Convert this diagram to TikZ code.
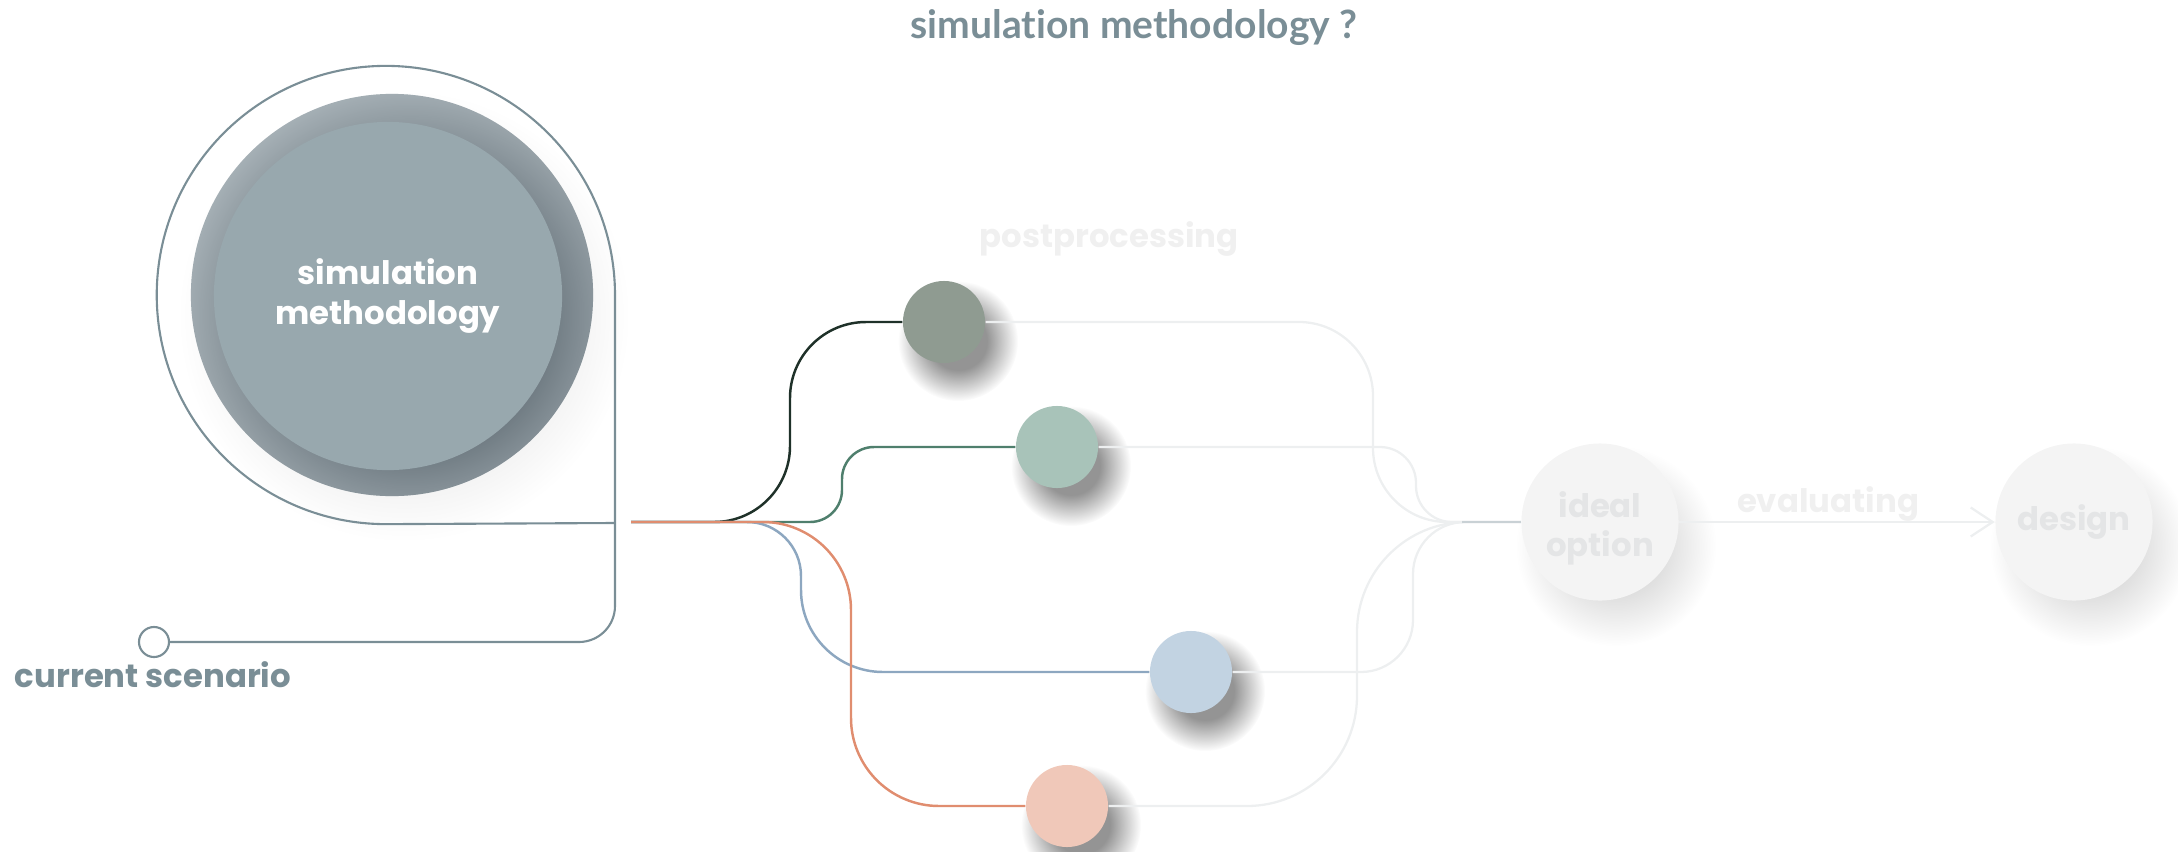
\documentclass[tikz,border=0pt]{standalone}
\usepackage{fontspec}
\setmainfont{Poppins}
\newfontfamily\titlefont{Lato}[Ligatures=NoCommon]
\usepackage{tikz}
\usetikzlibrary{arrows.meta,fadings,backgrounds}
\definecolor{slateGray}{HTML}{7A8E96}
\definecolor{discOuter}{HTML}{B9C3C8}
\definecolor{discInner}{HTML}{98A8AE}
\definecolor{discShade}{HTML}{5E6A72}
\definecolor{branchDark}{HTML}{1F3129}
\definecolor{branchGreen}{HTML}{4F7F6D}
\definecolor{branchBlue}{HTML}{8DA7C0}
\definecolor{branchOrange}{HTML}{E08D6F}
\definecolor{dotDark}{HTML}{8F9B91}
\definecolor{dotGreen}{HTML}{A8C3B9}
\definecolor{dotBlue}{HTML}{C2D3E2}
\definecolor{dotPeach}{HTML}{F0C8B9}
\definecolor{fadedLine}{HTML}{EDEFF0}
\definecolor{mergeLine}{HTML}{C9D1D5}
\definecolor{fadedFill}{HTML}{F4F4F4}
\definecolor{fadedText}{HTML}{E4E5E6}
\definecolor{ghostText}{HTML}{F0F0F0}
\pgfdeclareradialshading{softdiscshade}{\pgfpointorigin}{color(0bp)=(white); color(12bp)=(white); color(25bp)=(black); color(50bp)=(black)}
\pgfdeclarefading{soft disc}{\pgfuseshading{softdiscshade}}
\tikzset{
  tagtext/.style={font=\bfseries\fontsize{9.2}{11.1}\selectfont},
  titletext/.style={font=\titlefont\bfseries\fontsize{11.1}{13}\selectfont, text=slateGray},
  loopline/.style={draw=slateGray, line width=0.6pt},
  branch/.style={line width=0.7pt},
  faded/.style={draw=fadedLine, line width=0.65pt},
  dot/.style={circle, minimum size=8.2mm, inner sep=0pt},
  bignode/.style={circle, fill=fadedFill, minimum size=15.7mm, inner sep=0pt},
  softshadow/.style={fill=black, path fading=soft disc}
}

\begin{document}
\begin{tikzpicture}[x=0.01cm, y=-0.01cm]
  \useasboundingbox (0,0) rectangle (2178,851);

  % heading
  \node[titletext, anchor=base] (title) at (1134,38) {simulation methodology ?};

  % central disc
  \fill[discOuter] (392,295) circle (2.01cm);
  \begin{scope}
    \clip (392,295) circle (2.01cm);
    \fill[discShade, path fading=soft disc, opacity=0.9] (410,316) circle (2.6cm);
  \end{scope}
  \node[circle, fill=discInner, minimum size=3.48cm, inner sep=0pt, text=white, align=center, tagtext] (sim) at (388,296) {simulation\\methodology};

  % current scenario and the loop
  \node[circle, draw=slateGray, line width=0.6pt, minimum size=3mm, inner sep=0pt] (now) at (154,642) {};
  \node[tagtext, text=slateGray, anchor=base] (nowlabel) at (153,687) {current scenario};
  \coordinate (hook) at (615,295);
  \draw[loopline, rounded corners=3.6mm] (now.east) -- (615,642) -- (hook);
  \draw[loopline] (hook) arc[start angle=0, end angle=270, radius=2.29cm] -- (615,523);

  % the four steps
  \coordinate (split) at (631,522);
  \node[dot, fill=dotDark] (darkdot) at (944,322) {};
  \node[dot, fill=dotGreen] (greendot) at (1057,447) {};
  \node[dot, fill=dotBlue] (bluedot) at (1191,672) {};
  \node[dot, fill=dotPeach] (peachdot) at (1067,806) {};

  \node[tagtext, text=ghostText, anchor=base] (postlabel) at (1109,247) {postprocessing};

  % outcome
  \node[bignode] (ideal) at (1600,522) {};
  \node[tagtext, text=fadedText, align=center] (ideallabel) at (1600,528) {ideal\\option};
  \node[bignode] (design) at (2074,522) {};
  \node[tagtext, text=fadedText] (designlabel) at (2074,522) {design};
  \node[tagtext, text=ghostText, anchor=base] (evallabel) at (1828,512) {evaluating};

  \begin{scope}[on background layer]
    \fill[softshadow, opacity=0.42] ([shift={(14,19)}]darkdot.center) circle (6mm);
    \fill[softshadow, opacity=0.42] ([shift={(14,19)}]greendot.center) circle (6mm);
    \fill[softshadow, opacity=0.42] ([shift={(14,19)}]bluedot.center) circle (6mm);
    \fill[softshadow, opacity=0.42] ([shift={(14,19)}]peachdot.center) circle (6mm);
    \fill[softshadow, opacity=0.13] ([shift={(16,24)}]ideal.center) circle (10mm);
    \fill[softshadow, opacity=0.13] ([shift={(16,24)}]design.center) circle (10mm);
    \fill[softshadow, opacity=0.10] ([shift={(16,20)}]sim.center) circle (22.5mm);
  \end{scope}

  % paths into the steps
  \draw[branch, branchDark, rounded corners=7.6mm] (split) -- (790,522) -- (790,322) -- (darkdot.west);
  \draw[branch, branchGreen, rounded corners=3.2mm] (split) -- (842,522) -- (842,447) -- (greendot.west);
  \draw[branch, branchBlue] (split) [rounded corners=5.4mm] -- (801,522) [rounded corners=8.2mm] -- (801,672) -- (bluedot.west);
  \draw[branch, branchOrange, rounded corners=8.8mm] (split) -- (851,522) -- (851,806) -- (peachdot.west);

  % paths out of the steps
  \draw[faded, rounded corners=7.4mm] (darkdot.east) -- (1373,322) -- (1373,522) -- (ideal.west);
  \draw[faded, rounded corners=3.6mm] (greendot.east) -- (1416,447) -- (1416,522) -- (ideal.west);
  \draw[faded, rounded corners=5.2mm] (bluedot.east) -- (1413,672) -- (1413,522) -- (ideal.west);
  \draw[faded, rounded corners=11mm] (peachdot.east) -- (1357,806) -- (1357,522) -- (ideal.west);
  \coordinate (merge) at (1462,522);
  \draw[draw=mergeLine, line width=0.65pt] (merge) -- (ideal.west);

  \draw[faded, -{Straight Barb[length=2.2mm, width=2.9mm]}] (ideal.east) -- (design.west);
\end{tikzpicture}
\end{document}
